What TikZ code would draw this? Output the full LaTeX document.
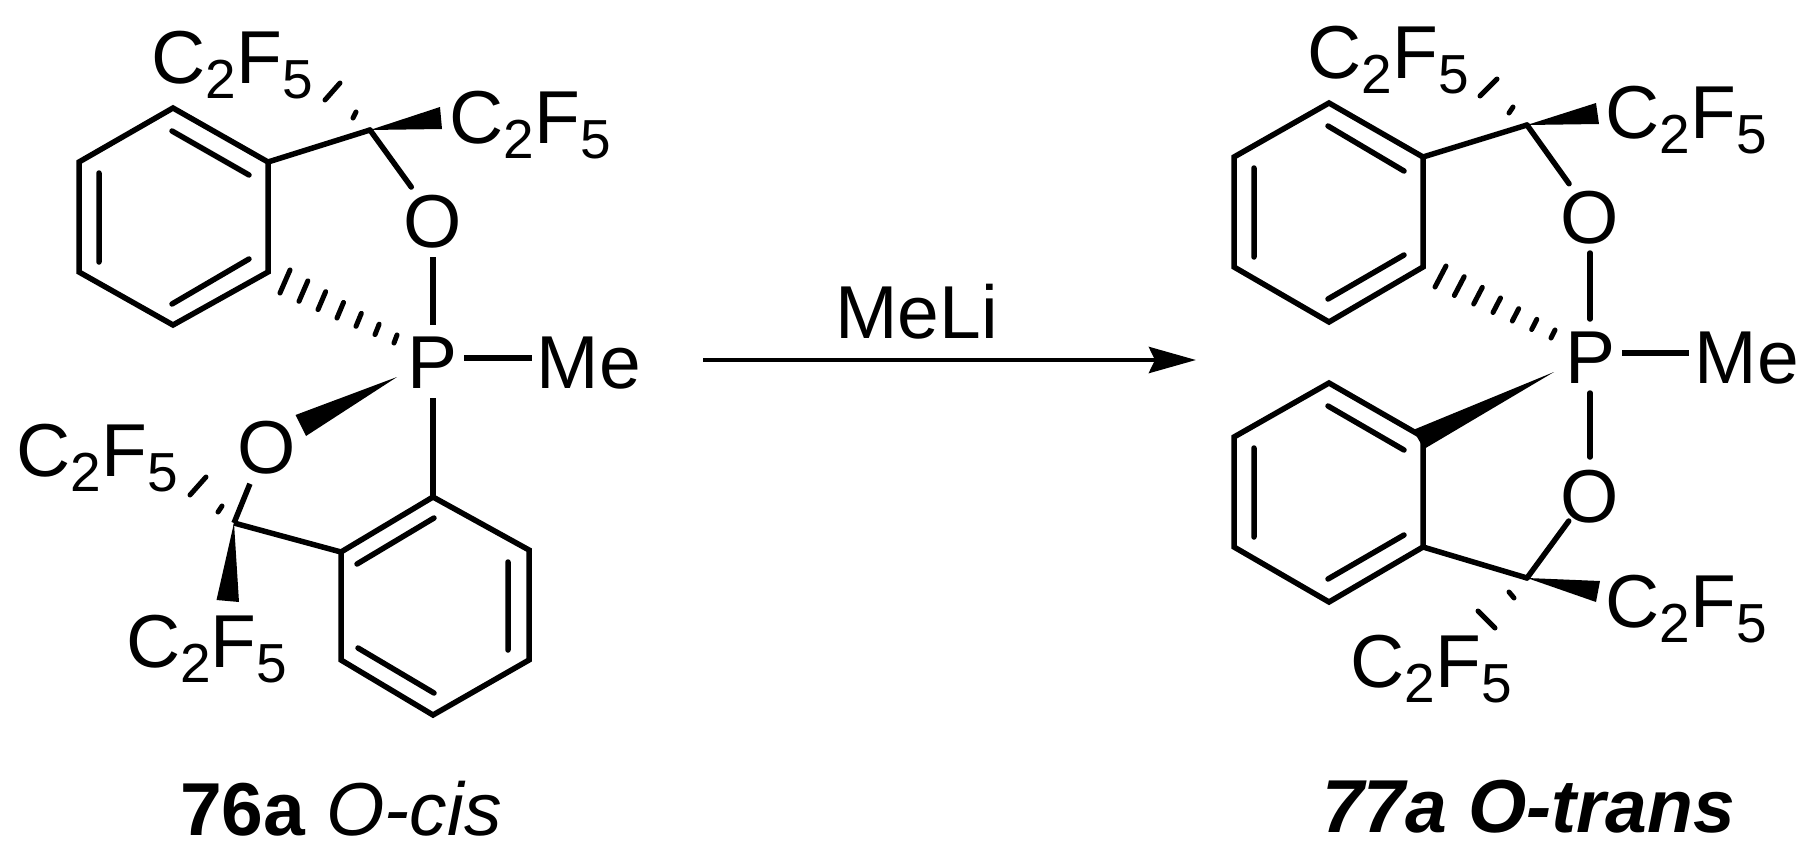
\documentclass[tikz,border=0pt]{standalone}
\usepackage{fontspec}
\setmainfont{Liberation Sans}
\usetikzlibrary{calc,arrows.meta}
\newcommand{\bigfs}{\fontsize{75}{82}\selectfont}
\newcommand{\subfs}{\fontsize{55}{60}\selectfont}
\newcommand{\cf}{C\raisebox{-15pt}{\subfs 2}F\raisebox{-15pt}{\subfs 5}}
% tip, wide end a, wide end b
\newcommand{\wedgebond}[3]{\fill (#1) -- (#2) -- (#3) -- cycle;}
% first dash (a,b), last dash (c,d), list of fractions
\newcommand{\hashbond}[5]{\foreach \t in {#5}{\draw[hashline] ($(#1)!\t!(#3)$) -- ($(#2)!\t!(#4)$);}}
\tikzset{
  bond/.style={line width=5.5pt,line cap=butt,line join=miter},
  innerbond/.style={line width=5.5pt,line cap=round},
  hashline/.style={line width=5pt,line cap=round},
  atom/.style={inner sep=0pt,text height=60pt,text depth=0pt,font=\bigfs},
  lab/.style={inner sep=0pt,anchor=base west,font=\bigfs},
  rxn/.style={line width=4.7pt,-{Stealth[length=47pt,width=26pt,inset=6pt]}},
}
\begin{document}
\begin{tikzpicture}[x=1pt,y=-1pt]
\useasboundingbox (0,0) rectangle (1810,862);
\fill[white] (0,0) rectangle (1810,862);

%% ---------- left molecule ----------
\coordinate (A1) at (173,108); \coordinate (A2) at (268,162); \coordinate (A3) at (268,272);
\coordinate (A4) at (173,325); \coordinate (A5) at (79,272);  \coordinate (A6) at (79,162);
\coordinate (Ai1) at (172,131); \coordinate (Ai2) at (249,175);
\coordinate (Ai3) at (99,173);  \coordinate (Ai4) at (99,262);
\coordinate (Ai5) at (172,304); \coordinate (Ai6) at (249,259);
\coordinate (B1) at (433,497); \coordinate (B2) at (529,550); \coordinate (B3) at (529,660);
\coordinate (B4) at (433,715); \coordinate (B5) at (341,660); \coordinate (B6) at (341,552);
\coordinate (Bi1) at (357,564); \coordinate (Bi2) at (434,518);
\coordinate (Bi3) at (508,562); \coordinate (Bi4) at (508,650);
\coordinate (Bi5) at (358,648); \coordinate (Bi6) at (434,693);
\coordinate (CA) at (370,130);
\coordinate (CB) at (234,523);

\node[atom] (OA) at (433,217) {O};
\node[atom] (PL) at (433,358) {P};
\node[atom] (MeL) at (589,358) {Me};
\node[atom] (OB) at (266.5,443) {O};
\node[lab] (F1) at (151.5,83) {\cf};
\node[lab] (F2) at (449.5,143) {\cf};
\node[lab] (F3) at (16.5,476) {\cf};
\node[lab] (F4) at (126,667) {\cf};

\draw[bond] (A1) -- (A2) -- (A3) -- (A4) -- (A5) -- (A6) -- cycle;
\draw[innerbond] (Ai1) -- (Ai2) (Ai3) -- (Ai4) (Ai5) -- (Ai6);
\draw[bond] (B1) -- (B2) -- (B3) -- (B4) -- (B5) -- (B6) -- cycle;
\draw[innerbond] (Bi1) -- (Bi2) (Bi3) -- (Bi4) (Bi5) -- (Bi6);
\draw[bond,line cap=round] (A2) -- (CA);
\draw[bond,line cap=round,shorten >=37pt] (CA) -- (OA.center);
\draw[bond,shorten <=40pt,shorten >=33pt] (OA.center) -- (PL.center);
\draw[bond,shorten <=31pt,shorten >=57pt] (PL.center) -- (MeL.center);
\draw[bond,shorten <=40pt] (PL.center) -- (B1);
\draw[bond] (B6) -- (CB);
\draw[bond,shorten >=44pt] (CB) -- (OB.center);

\coordinate (WA1) at (440,107); \coordinate (WA2) at (442,129);
\wedgebond{CA}{WA1}{WA2}
\coordinate (WB0) at (397,377); \coordinate (WB1) at (295.5,415); \coordinate (WB2) at (306,436);
\wedgebond{WB0}{WB1}{WB2}
\coordinate (WC1) at (216.5,600); \coordinate (WC2) at (239,602);
\wedgebond{CB}{WC1}{WC2}

\coordinate (HA1) at (356,112); \coordinate (HA2) at (353,118);
\coordinate (HA3) at (340,83);  \coordinate (HA4) at (325,100);
\hashbond{HA1}{HA2}{HA3}{HA4}{0,1}
\coordinate (HB1) at (222,506); \coordinate (HB2) at (218,512);
\coordinate (HB3) at (206,477); \coordinate (HB4) at (190,495);
\hashbond{HB1}{HB2}{HB3}{HB4}{0,1}
\coordinate (HC1) at (290,270); \coordinate (HC2) at (280,293);
\coordinate (HC3) at (397,335); \coordinate (HC4) at (394,343);
\hashbond{HC1}{HC2}{HC3}{HC4}{0,0.1667,0.3333,0.5,0.6667,0.8333,1}

\node[lab] (capL) at (180,835) {\textbf{76a} \textit{O-cis}};

%% ---------- arrow ----------
\coordinate (arrS) at (703,360); \coordinate (arrE) at (1196,360);
\draw[rxn] (arrS) -- (arrE);
\node[lab] (reag) at (835,338) {MeLi};

%% ---------- right molecule ----------
\coordinate (C1) at (1329,103); \coordinate (C2) at (1423,157); \coordinate (C3) at (1423,267);
\coordinate (C4) at (1329,322); \coordinate (C5) at (1234,267); \coordinate (C6) at (1234,157);
\coordinate (Ci1) at (1328,126); \coordinate (Ci2) at (1404,171);
\coordinate (Ci3) at (1254,168); \coordinate (Ci4) at (1254,257);
\coordinate (Ci5) at (1328,299); \coordinate (Ci6) at (1404,255);
\coordinate (D1) at (1329,383); \coordinate (D2) at (1423,437); \coordinate (D3) at (1423,547);
\coordinate (D4) at (1329,602); \coordinate (D5) at (1234,547); \coordinate (D6) at (1234,437);
\coordinate (Di1) at (1328,406); \coordinate (Di2) at (1404,450);
\coordinate (Di3) at (1254,448); \coordinate (Di4) at (1254,537);
\coordinate (Di5) at (1328,579); \coordinate (Di6) at (1404,535);
\coordinate (CC) at (1527,125);
\coordinate (CD) at (1527,578);

\node[atom] (OC) at (1590,213) {O};
\node[atom] (PR) at (1590,353) {P};
\node[atom] (MeR) at (1747,353) {Me};
\node[atom] (OD) at (1590,492) {O};
\node[lab] (F5) at (1307.5,78) {\cf};
\node[lab] (F6) at (1605.5,138) {\cf};
\node[lab] (F7) at (1605.5,627) {\cf};
\node[lab] (F8) at (1350.5,687) {\cf};

\draw[bond] (C1) -- (C2) -- (C3) -- (C4) -- (C5) -- (C6) -- cycle;
\draw[innerbond] (Ci1) -- (Ci2) (Ci3) -- (Ci4) (Ci5) -- (Ci6);
\draw[bond] (D1) -- (D2) -- (D3) -- (D4) -- (D5) -- (D6) -- cycle;
\draw[innerbond] (Di1) -- (Di2) (Di3) -- (Di4) (Di5) -- (Di6);
\draw[bond,line cap=round] (C2) -- (CC);
\draw[bond,line cap=round,shorten >=36pt] (CC) -- (OC.center);
\draw[bond,line cap=round,shorten <=40pt,shorten >=34pt] (OC.center) -- (PR.center);
\draw[bond,shorten <=32pt,shorten >=58pt] (PR.center) -- (MeR.center);
\draw[bond,line cap=round,shorten <=40pt,shorten >=35pt] (PR.center) -- (OD.center);
\draw[bond,line cap=round] (D3) -- (CD);
\draw[bond,line cap=round,shorten >=36pt] (CD) -- (OD.center);

\coordinate (WD1) at (1596,103); \coordinate (WD2) at (1599,124);
\wedgebond{CC}{WD1}{WD2}
\coordinate (WE1) at (1600,581); \coordinate (WE2) at (1596,602);
\wedgebond{CD}{WE1}{WE2}
\coordinate (WF0) at (1554,372); \coordinate (WF1) at (1413,430); \coordinate (WF2) at (1424,449);
\wedgebond{WF0}{WF1}{WF2}

\coordinate (HD1) at (1513,107); \coordinate (HD2) at (1509,113);
\coordinate (HD3) at (1497,79);  \coordinate (HD4) at (1480,96);
\hashbond{HD1}{HD2}{HD3}{HD4}{0,1}
\coordinate (HE1) at (1509,592); \coordinate (HE2) at (1514,598);
\coordinate (HE3) at (1478,611); \coordinate (HE4) at (1495,628);
\hashbond{HE1}{HE2}{HE3}{HE4}{0,1}
\coordinate (HF1) at (1446,266); \coordinate (HF2) at (1435,287);
\coordinate (HF3) at (1555,330); \coordinate (HF4) at (1551,338);
\hashbond{HF1}{HF2}{HF3}{HF4}{0,0.1667,0.3333,0.5,0.6667,0.8333,1}

\node[lab] (capR) at (1322,832) {\textbf{\textit{77a O-trans}}};
\end{tikzpicture}
\end{document}
